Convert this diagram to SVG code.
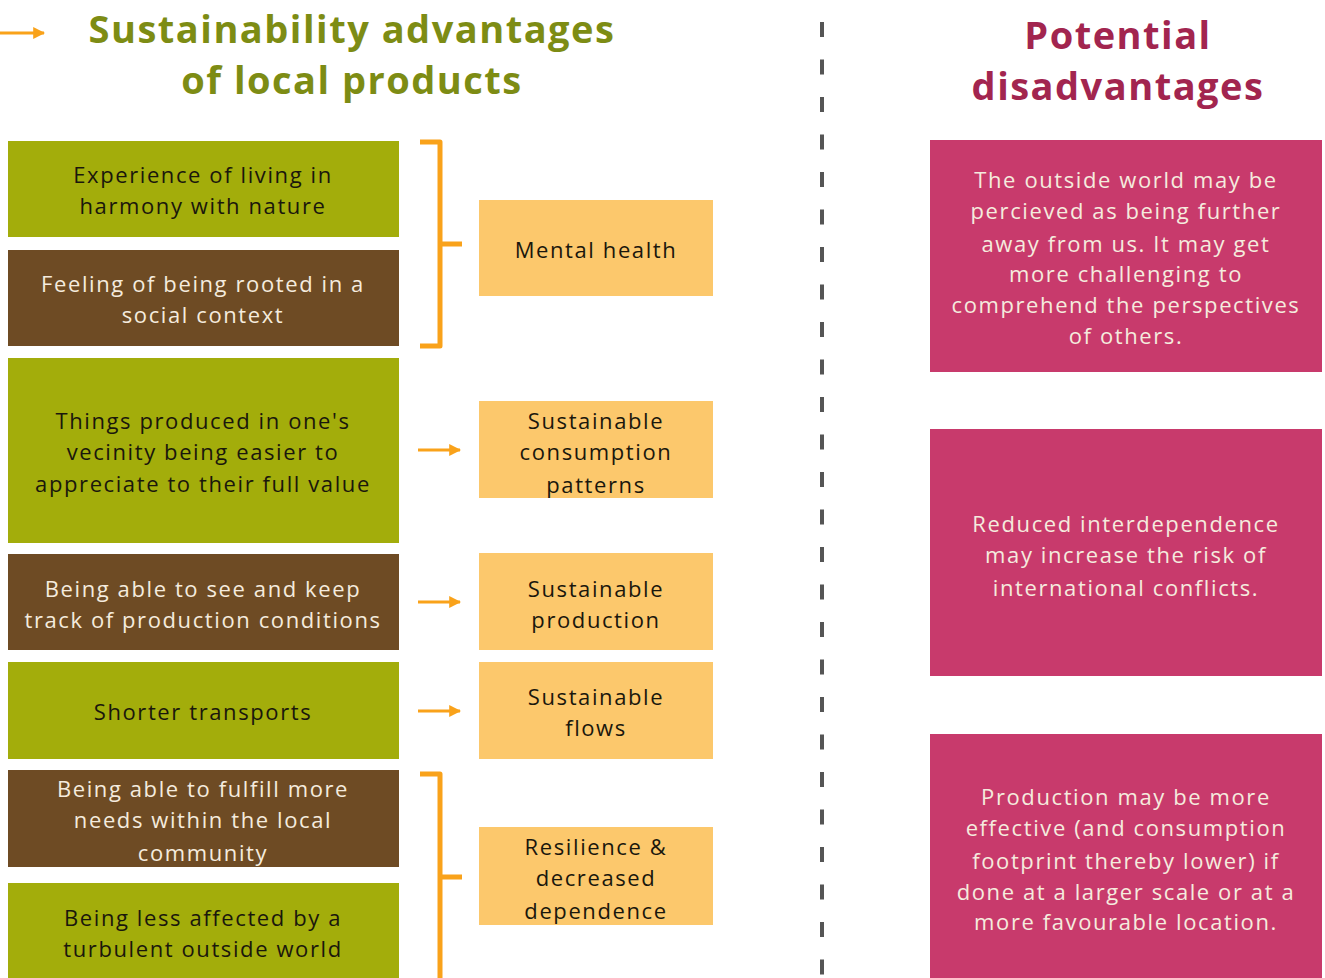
<svg xmlns="http://www.w3.org/2000/svg" width="1325" height="978" viewBox="0 0 1325 978">
<defs>
<style>
.t{font-family:"Open Sans","Noto Sans",sans-serif;font-size:22px;letter-spacing:1.6px;text-anchor:middle}
.dk{fill:#1a170c}
.lt{fill:#f5ebde}
.g{fill:#a3ad0b}
.b{fill:#6e4b24}
.o{fill:#fcc86c}
.p{fill:#c83a6c}
.h{font-family:"Open Sans","Noto Sans",sans-serif;font-weight:bold;font-size:38px;letter-spacing:1.5px;text-anchor:middle}
.br{fill:none;stroke:#f9a21a;stroke-width:5;stroke-linejoin:round}
.ar{stroke:#f9a21a;stroke-width:3;fill:none}
</style>
<marker id="ah" viewBox="0 0 10 10" refX="9" refY="5" markerWidth="4" markerHeight="4" orient="auto" markerUnits="strokeWidth">
<path d="M0,0 L10,5 L0,10 z" fill="#f9a21a"/>
</marker>
</defs>
<rect width="1325" height="978" fill="#ffffff"/>

<g id="titles">
<text class="h" x="352" y="43" fill="#7d8c14">Sustainability advantages</text>
<text class="h" x="352" y="94" fill="#7d8c14">of local products</text>
<text class="h" x="1118" y="49" fill="#a2254f">Potential</text>
<text class="h" x="1118" y="100" fill="#a2254f">disadvantages</text>
</g>

<g id="connectors">
<line class="ar" x1="0" y1="33" x2="44" y2="33" marker-end="url(#ah)"/>
<path class="br" d="M420,142 L440,142 L440,346 L420,346 M440,244 L462,244"/>
<path class="br" d="M420,774 L440,774 L440,980 M440,877 L462,877"/>
<line class="ar" x1="418" y1="450" x2="460" y2="450" marker-end="url(#ah)"/>
<line class="ar" x1="418" y1="602" x2="460" y2="602" marker-end="url(#ah)"/>
<line class="ar" x1="418" y1="711" x2="460" y2="711" marker-end="url(#ah)"/>
<line x1="822" y1="22" x2="822" y2="978" stroke="#555555" stroke-width="4" stroke-dasharray="15 22.5"/>
</g>

<g id="n1"><rect class="g" x="8" y="141" width="391" height="96"/>
<text class="t dk" x="203"><tspan x="203" y="183">Experience of living in</tspan><tspan x="203" y="214">harmony with nature</tspan></text></g>
<g id="n2"><rect class="b" x="8" y="250" width="391" height="96"/>
<text class="t lt" x="203"><tspan x="203" y="292">Feeling of being rooted in a</tspan><tspan x="203" y="323">social context</tspan></text></g>
<g id="n3"><rect class="g" x="8" y="358" width="391" height="185"/>
<text class="t dk" x="203"><tspan x="203" y="429">Things produced in one's</tspan><tspan x="203" y="460">vecinity being easier to</tspan><tspan x="203" y="492">appreciate to their full value</tspan></text></g>
<g id="n4"><rect class="b" x="8" y="554" width="391" height="96"/>
<text class="t lt" x="203"><tspan x="203" y="597">Being able to see and keep</tspan><tspan x="203" y="628">track of production conditions</tspan></text></g>
<g id="n5"><rect class="g" x="8" y="662" width="391" height="97"/>
<text class="t dk" x="203" y="720">Shorter transports</text></g>
<g id="n6"><rect class="b" x="8" y="770" width="391" height="97"/>
<text class="t lt" x="203"><tspan x="203" y="797">Being able to fulfill more</tspan><tspan x="203" y="828">needs within the local</tspan><tspan x="203" y="861">community</tspan></text></g>
<g id="n7"><rect class="g" x="8" y="883" width="391" height="95"/>
<text class="t dk" x="203"><tspan x="203" y="926">Being less affected by a</tspan><tspan x="203" y="957">turbulent outside world</tspan></text></g>

<g id="o1"><rect class="o" x="479" y="200" width="234" height="96"/>
<text class="t dk" x="596" y="258">Mental health</text></g>
<g id="o2"><rect class="o" x="479" y="401" width="234" height="97"/>
<text class="t dk" x="596"><tspan x="596" y="429">Sustainable</tspan><tspan x="596" y="460">consumption</tspan><tspan x="596" y="493">patterns</tspan></text></g>
<g id="o3"><rect class="o" x="479" y="553" width="234" height="97"/>
<text class="t dk" x="596"><tspan x="596" y="597">Sustainable</tspan><tspan x="596" y="628">production</tspan></text></g>
<g id="o4"><rect class="o" x="479" y="662" width="234" height="97"/>
<text class="t dk" x="596"><tspan x="596" y="705">Sustainable</tspan><tspan x="596" y="736">flows</tspan></text></g>
<g id="o5"><rect class="o" x="479" y="827" width="234" height="98"/>
<text class="t dk" x="596"><tspan x="596" y="855">Resilience &amp;</tspan><tspan x="596" y="886">decreased</tspan><tspan x="596" y="919">dependence</tspan></text></g>

<g id="p1"><rect class="p" x="930" y="140" width="392" height="232"/>
<text class="t lt" x="1126"><tspan x="1126" y="188">The outside world may be</tspan><tspan x="1126" y="219">percieved as being further</tspan><tspan x="1126" y="252">away from us. It may get</tspan><tspan x="1126" y="282">more challenging to</tspan><tspan x="1126" y="313">comprehend the perspectives</tspan><tspan x="1126" y="344">of others.</tspan></text></g>
<g id="p2"><rect class="p" x="930" y="429" width="392" height="247"/>
<text class="t lt" x="1126"><tspan x="1126" y="532">Reduced interdependence</tspan><tspan x="1126" y="563">may increase the risk of</tspan><tspan x="1126" y="596">international conflicts.</tspan></text></g>
<g id="p3"><rect class="p" x="930" y="734" width="392" height="244"/>
<text class="t lt" x="1126"><tspan x="1126" y="805">Production may be more</tspan><tspan x="1126" y="836">effective (and consumption</tspan><tspan x="1126" y="869">footprint thereby lower) if</tspan><tspan x="1126" y="900">done at a larger scale or at a</tspan><tspan x="1126" y="930">more favourable location.</tspan></text></g>
</svg>
